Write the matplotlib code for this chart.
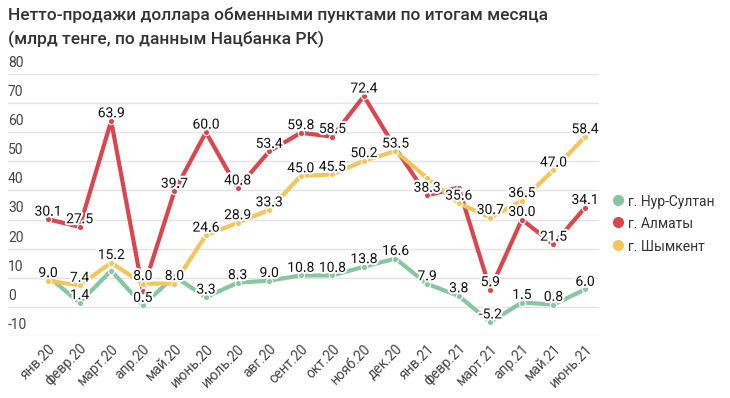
import matplotlib
matplotlib.use("Agg")
import matplotlib.pyplot as plt
import matplotlib.patheffects as pe
from matplotlib.lines import Line2D

plt.rcParams['font.family'] = ['Roboto', 'DejaVu Sans']

months = ["янв.20", "февр.20", "март.20", "апр.20", "май.20", "июнь.20", "июль.20",
          "авг.20", "сент.20", "окт.20", "нояб.20", "дек.20", "янв.21", "февр.21",
          "март.21", "апр.21", "май.21", "июнь.21"]

nur_sultan = [10.5, 1.4, 12.5, 0.5, 10.5, 3.3, 8.3, 9.0, 10.8, 10.8, 13.8, 16.6,
              7.9, 3.8, -5.2, 1.5, 0.8, 6.0]
almaty = [30.1, 27.5, 63.9, 5.6, 39.7, 60.0, 40.8, 53.4, 59.8, 58.5, 72.4, 54.5,
          38.3, 41.0, 5.9, 30.0, 21.5, 34.1]
shymkent = [9.0, 7.4, 15.2, 8.0, 8.0, 24.6, 28.9, 33.3, 45.0, 45.5, 50.2, 53.5,
            44.3, 35.6, 30.7, 36.5, 47.0, 58.4]

# which points carry a visible value label (others hidden to avoid overlaps)
nur_labels = [False, True, False, True, False, True, True, True, True, True, True, True,
              True, True, True, True, True, True]
alm_labels = [True, True, True, False, True, True, True, True, True, True, True, False,
              True, False, True, True, True, True]
shy_labels = [True, True, True, True, True, True, True, True, True, True, True, True,
              False, True, True, True, True, True]

series_names = ["г. Нур-Султан", "г. Алматы", "г. Шымкент"]
colors = ["#88c5a1", "#d9464e", "#f3c55b"]

W, H = 730, 398
fig = plt.figure(figsize=(W / 100, H / 100), dpi=100)

ax_left, ax_right = 8, 599
ax_top, ax_bottom = 74, 336
ax = fig.add_axes([ax_left / W, (H - ax_bottom) / H,
                   (ax_right - ax_left) / W, (ax_bottom - ax_top) / H])

x = list(range(len(months)))
step = 31.59
ax.set_xlim(0 - 40 / step, 17 + 14 / step)
ax.set_ylim(-10, 80)

for s in ax.spines.values():
    s.set_visible(False)
ax.tick_params(axis='both', length=0)
ax.set_yticks([])
yticks = [-10, 0, 10, 20, 30, 40, 50, 60, 70, 80]
for yt in yticks:
    ax.axhline(yt, color="#e3e3e3", lw=1.0, zorder=0)
    ax.annotate(str(yt), xy=(0, yt), xycoords=('axes fraction', 'data'),
                xytext=(0, 3), textcoords='offset points',
                ha='left', va='bottom', fontsize=10, color="#444444")

ax.set_xticks(x)
ax.set_xticklabels(months, rotation=45, ha='right', rotation_mode='anchor',
                   fontsize=10, color="#444444")
for lbl in ax.get_xticklabels():
    lbl.set_transform(lbl.get_transform() + matplotlib.transforms.ScaledTranslation(5 / 100, 0, fig.dpi_scale_trans))
ax.tick_params(axis='x', pad=4)

halo = [pe.withStroke(linewidth=3, foreground="white")]
all_series = [nur_sultan, almaty, shymkent]
all_labels = [nur_labels, alm_labels, shy_labels]
for vals, labs, col, z in zip(all_series, all_labels, colors, [3, 4, 5]):
    ax.plot(x, vals, color=col, lw=3, zorder=z, solid_joinstyle='round',
            marker='o', markersize=4.5, markerfacecolor=col,
            markeredgecolor='white', markeredgewidth=0.8)
    for xi, v, show in zip(x, vals, labs):
        if show:
            ax.annotate(f"{v:.1f}", xy=(xi, v), xytext=(0, 5.5), textcoords='offset points',
                        ha='center', va='center', fontsize=10, color="#111111",
                        path_effects=halo, zorder=10)

fig.text(8 / W, 1 - 15 / H, "Нетто-продажи доллара обменными пунктами по итогам месяца",
         ha='left', va='center', fontsize=12.5, fontweight='medium', color="#333333")
fig.text(8 / W, 1 - 39 / H, "(млрд тенге, по данным Нацбанка РК)",
         ha='left', va='center', fontsize=12.5, fontweight='medium', color="#333333")

leg_y = [200, 222, 245]
for name, col, ly in zip(series_names, colors, leg_y):
    fig.add_artist(Line2D([618 / W], [1 - ly / H], marker='o', markersize=7,
                          color=col, linestyle='none', transform=fig.transFigure))
    fig.text(628 / W, 1 - (ly + 2) / H, name, ha='left', va='center',
             fontsize=10, color="#333333")

fig.savefig("out.png", dpi=100)
